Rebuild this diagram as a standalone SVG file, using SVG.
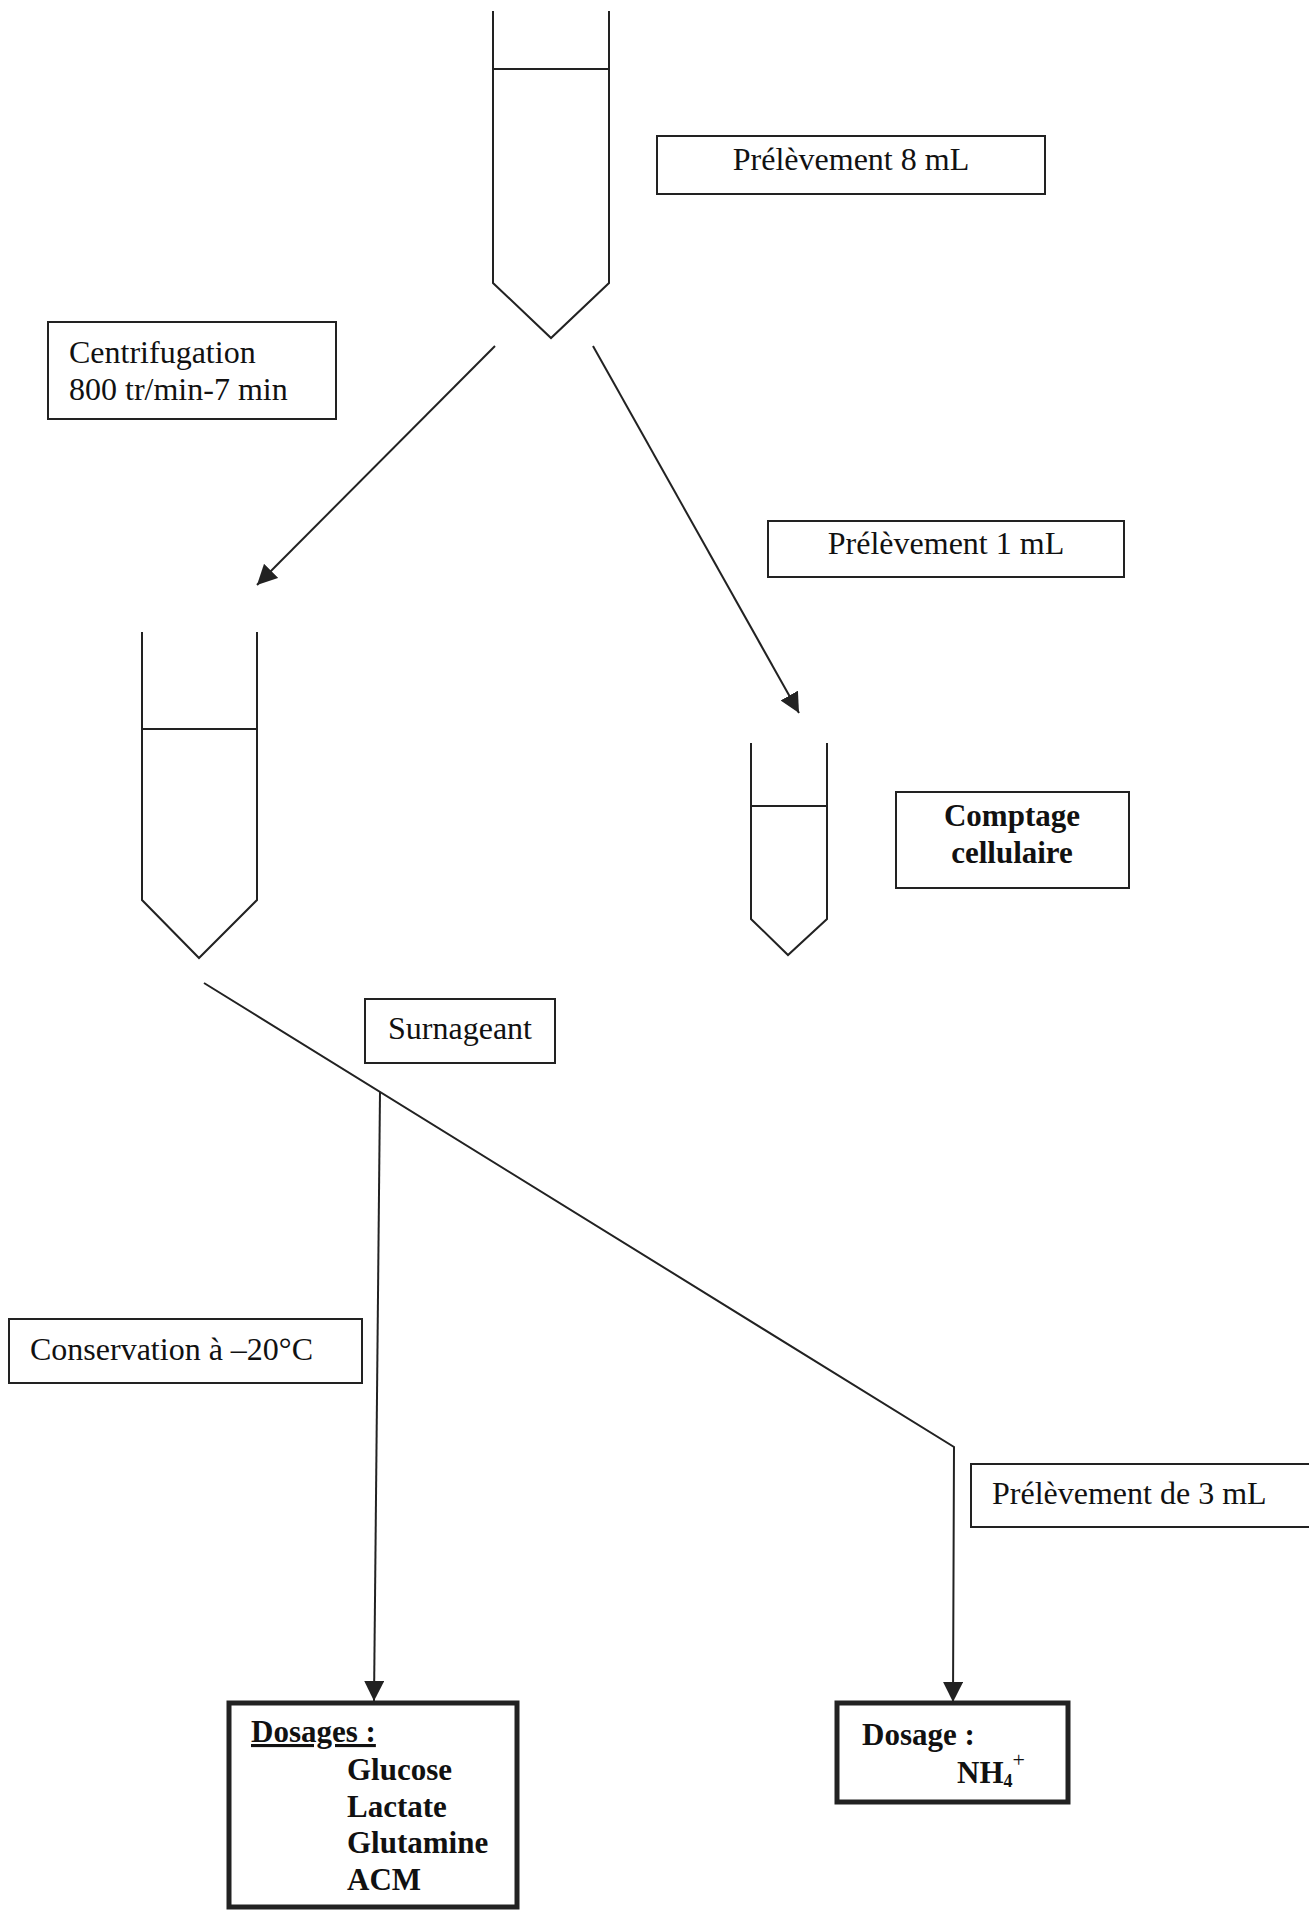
<svg xmlns="http://www.w3.org/2000/svg" width="1309" height="1910" viewBox="0 0 1309 1910">
<defs>
<style>
.t{font-family:"Liberation Serif","Times New Roman",serif;font-size:32px;fill:#111}
.b{font-weight:bold;font-size:31px}
.box{fill:#fff;stroke:#222;stroke-width:2}
.thick{fill:#fff;stroke:#222;stroke-width:5}
.tube{fill:none;stroke:#222;stroke-width:2;stroke-linejoin:miter}
.c{fill:none;stroke:#222;stroke-width:2}
</style>
<marker id="ah" viewBox="0 0 20 20" refX="20" refY="10" markerWidth="20" markerHeight="20" markerUnits="userSpaceOnUse" orient="auto">
<path d="M0,0 L20,10 L0,20 Z" fill="#222"/>
</marker>
</defs>
<rect width="1309" height="1910" fill="#fff"/>

<g id="tube-main">
<path class="tube" d="M493,11 L493,283 L551,338 L609,283 L609,11"/>
<line class="tube" x1="493" y1="69" x2="609" y2="69"/>
</g>

<g id="tube-centrifuged">
<path class="tube" d="M142,632 L142,900 L199,958 L257,900 L257,632"/>
<line class="tube" x1="142" y1="729" x2="257" y2="729"/>
</g>

<g id="tube-small">
<path class="tube" d="M751,743 L751,919 L788,955 L827,919 L827,743"/>
<line class="tube" x1="751" y1="806" x2="827" y2="806"/>
</g>

<g id="connectors">
<line class="c" x1="495" y1="346" x2="257" y2="585" marker-end="url(#ah)"/>
<line class="c" x1="593" y1="346" x2="799" y2="713" marker-end="url(#ah)"/>
<polyline class="c" points="204,983 954,1447 953,1702" marker-end="url(#ah)"/>
<line class="c" x1="380" y1="1092" x2="374" y2="1701" marker-end="url(#ah)"/>
</g>

<g id="label-prelevement8">
<rect class="box" x="657" y="136" width="388" height="58"/>
<text class="t" x="851" y="170" text-anchor="middle">Prélèvement 8 mL</text>
</g>

<g id="label-centrifugation">
<rect class="box" x="48" y="322" width="288" height="97"/>
<text class="t" x="69" y="363">Centrifugation</text>
<text class="t" x="69" y="400">800 tr/min-7 min</text>
</g>

<g id="label-prelevement1">
<rect class="box" x="768" y="521" width="356" height="56"/>
<text class="t" x="946" y="554" text-anchor="middle">Prélèvement 1 mL</text>
</g>

<g id="label-comptage">
<rect class="box" x="896" y="792" width="233" height="96"/>
<text class="t b" x="1012" y="826" text-anchor="middle">Comptage</text>
<text class="t b" x="1012" y="863" text-anchor="middle">cellulaire</text>
</g>

<g id="label-surnageant">
<rect class="box" x="365" y="999" width="190" height="64"/>
<text class="t" x="460" y="1039" text-anchor="middle">Surnageant</text>
</g>

<g id="label-conservation">
<rect class="box" x="9" y="1319" width="353" height="64"/>
<text class="t" x="30" y="1360">Conservation à –20°C</text>
</g>

<g id="label-prelevement3">
<rect class="box" x="971" y="1464" width="340" height="63"/>
<text class="t" x="992" y="1504">Prélèvement de 3 mL</text>
</g>

<g id="box-dosages">
<rect class="thick" x="229" y="1703" width="288" height="204"/>
<text class="t b" x="251" y="1742" text-decoration="underline">Dosages :</text>
<text class="t b" x="347" y="1780">Glucose</text>
<text class="t b" x="347" y="1817">Lactate</text>
<text class="t b" x="347" y="1853">Glutamine</text>
<text class="t b" x="347" y="1890">ACM</text>
</g>

<g id="box-dosage-nh4">
<rect class="thick" x="837" y="1703" width="231" height="99"/>
<text class="t b" x="862" y="1745">Dosage :</text>
<text class="t b" x="957" y="1783">NH<tspan font-size="18" dy="4">4</tspan><tspan font-size="22" font-weight="normal" dx="0" dy="-20">+</tspan></text>
</g>
</svg>
